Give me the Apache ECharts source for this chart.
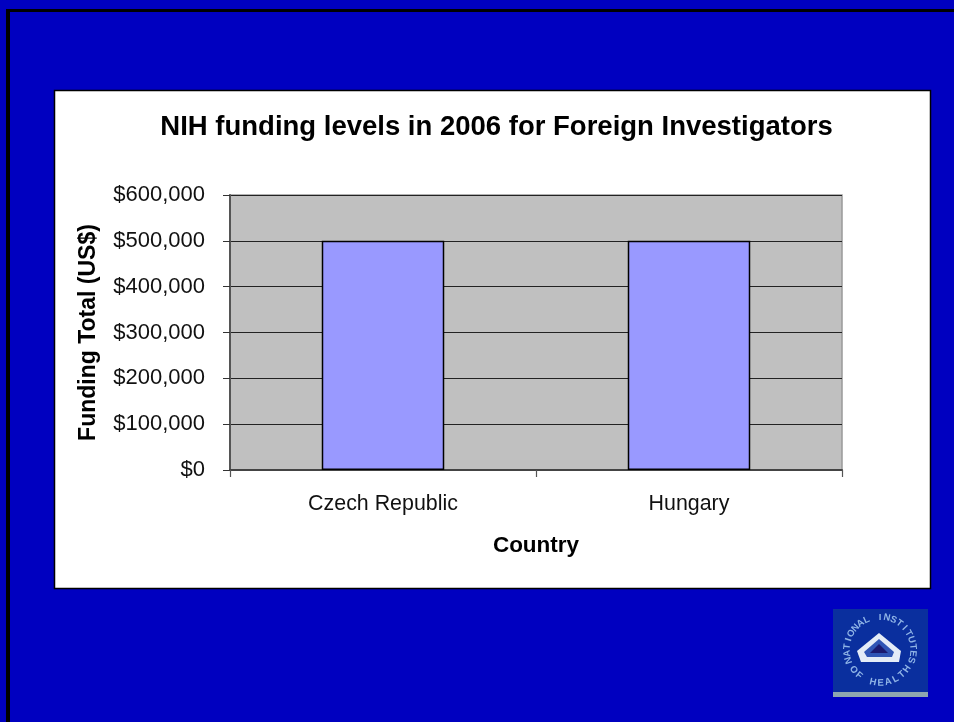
<!DOCTYPE html>
<html><head><meta charset="utf-8">
<style>html,body{margin:0;padding:0;background:#0000c0}#c{width:954px;height:722px}</style>
<script src="https://cdn.jsdelivr.net/npm/echarts@6/dist/echarts.min.js"></script>
</head><body><div id="c"></div>
<script>
const categories = ['Czech Republic', 'Hungary'];
const fundingTotals = [500000, 500000];
const titleText = 'NIH funding levels in 2006 for Foreign Investigators';
const yAxisTitle = 'Funding Total (US$)';
const xAxisTitle = 'Country';
const logoTop = 'NATIONAL INSTITUTES';
const logoBottom = 'OF HEALTH';
const FONT = '"Liberation Sans", Arial, sans-serif';

function arcLetters(str, cx, cy, r, startDeg, stepDeg, inward) {
  return str.split('').map((ch, i) => {
    const deg = startDeg + i * stepDeg;
    const a = deg * Math.PI / 180;
    return { type: 'text', z: 6, x: cx + r * Math.sin(a), y: cy - r * Math.cos(a),
      rotation: inward ? Math.PI - a : -a,
      style: { text: ch, fill: '#8fb4e6', font: 'bold 9.5px ' + FONT, align: 'center', verticalAlign: 'middle' } };
  });
}

const cx = 880, cy = 650;
const graphicEls = [
  { type: 'rect', z: -10, shape: { x: 6, y: 9, width: 948, height: 3 }, style: { fill: '#000' } },
  { type: 'rect', z: -10, shape: { x: 6, y: 9, width: 4, height: 713 }, style: { fill: '#000' } },
  { type: 'rect', z: -9, shape: { x: 54.5, y: 90.5, width: 876, height: 498 }, style: { fill: '#fff', stroke: '#000', lineWidth: 1.5 } },
  { type: 'rect', z: 5, shape: { x: 833, y: 609, width: 95, height: 83 }, style: { fill: '#0a2f9e' } },
  { type: 'rect', z: 5, shape: { x: 833, y: 692, width: 95, height: 5 }, style: { fill: '#8da6b0' } },
  { type: 'polygon', z: 6, shape: { points: [[879, 633], [901, 651], [899, 662], [861, 662], [857, 651]] }, style: { fill: '#e4ecf7' } },
  { type: 'polygon', z: 6, shape: { points: [[879, 639], [894, 652], [892, 657], [867, 657], [864, 652]] }, style: { fill: '#2f55b5' } },
  { type: 'polygon', z: 6, shape: { points: [[879, 644], [888, 653], [870, 653]] }, style: { fill: '#1a1a70' } },
  ...arcLetters(logoTop, cx, cy, 33, -108, 12, false),
  ...arcLetters(logoBottom, cx, cy, 33, 233, -13.5, true)
];

const chart = echarts.init(document.getElementById('c'), null, { renderer: 'canvas' });
chart.setOption({
  animation: false,
  backgroundColor: '#0000c0',
  textStyle: { fontFamily: FONT },
  title: { text: titleText, left: 491.5, top: 108, textAlign: 'center',
    textStyle: { fontFamily: FONT, fontWeight: 'bold', fontSize: 27.5, color: '#000' } },
  grid: { left: 230, top: 195, width: 612, height: 275, backgroundColor: '#c0c0c0', show: true, borderColor: '#999', borderWidth: 1.5 },
  xAxis: {
    type: 'category', data: categories,
    name: xAxisTitle, nameLocation: 'middle', nameGap: 64,
    nameTextStyle: { fontFamily: FONT, fontWeight: 'bold', fontSize: 22.5, color: '#000' },
    axisLine: { lineStyle: { color: '#444', width: 2 } },
    axisTick: { show: true, alignWithLabel: false, length: 7, lineStyle: { color: '#555', width: 1.2 } },
    axisLabel: { color: '#111', fontFamily: FONT, fontSize: 21.4, margin: 24 }
  },
  yAxis: {
    type: 'value', min: 0, max: 600000, interval: 100000,
    name: yAxisTitle, nameLocation: 'middle', nameGap: 130, nameRotate: 90,
    nameTextStyle: { fontFamily: FONT, fontWeight: 'bold', fontSize: 23, color: '#000' },
    axisLine: { show: true, lineStyle: { color: '#555', width: 2 } },
    axisTick: { show: true, length: 7, lineStyle: { color: '#333', width: 1 } },
    axisLabel: { color: '#111', fontFamily: FONT, fontSize: 22, margin: 25, padding: [3, 0, 0, 0],
      formatter: v => '$' + v.toLocaleString('en-US') },
    splitLine: { show: true, lineStyle: { color: '#222', width: 1 } }
  },
  series: [{
    type: 'bar', data: fundingTotals, barWidth: 122.5,
    itemStyle: { color: '#9999ff', borderColor: '#000', borderWidth: 1.5 }
  }],
  graphic: { elements: graphicEls }
});
</script></body></html>
